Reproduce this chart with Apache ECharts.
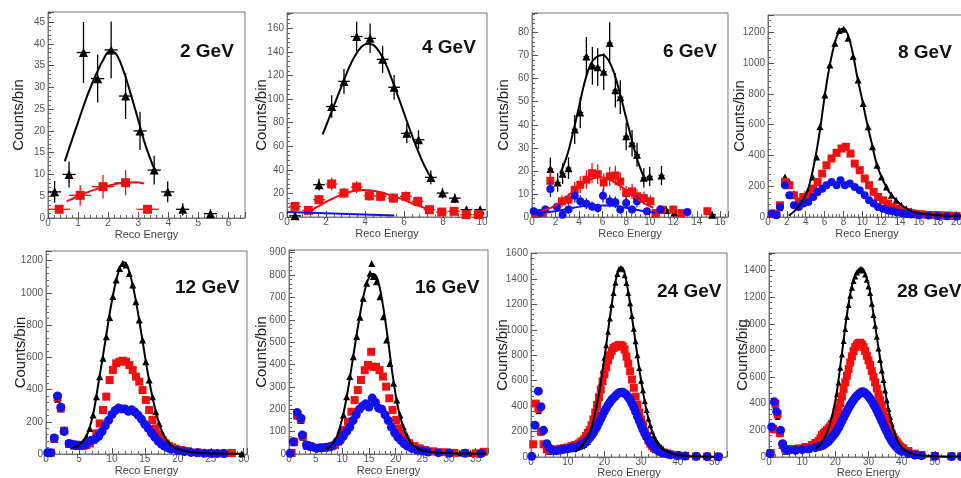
<!DOCTYPE html>
<html>
<head>
<meta charset="utf-8">
<script src="https://cdn.jsdelivr.net/npm/echarts@6.0.0/dist/echarts.min.js"></script>
<style>
  html, body { margin: 0; padding: 0; background: #fff; }
  #chart { width: 961px; height: 478px; }
</style>
</head>
<body>
<div id="chart"></div>
<script>
// ---- data: [x, y] or [x, y, xErr, yErr] ----
// 2 GeV
var p1Black = [[0.22,6,0.22,2.5],[0.7,10,0.22,3],[1.18,38,0.22,7],[1.65,32,0.22,5.5],[2.1,38.6,0.22,6.5],[2.58,28,0.22,5.3],[3.06,20,0.22,4.4],[3.53,11,0.22,3.3],[3.98,6,0.22,2.4],[4.48,2,0.22,1.4],[5.4,1,0.22,1]]
var p1Red = [[0.37,2,0.37,0.8],[1.07,5.2,0.37,2.4],[1.83,7.2,0.37,2.7],[2.58,8.1,0.37,2.9],[3.31,2,0.37,0.8]]
var p1BlackFit = [[0.56,13],[0.8,18],[1.0,22],[1.3,28],[1.6,33],[1.85,36.5],[2.05,38.3],[2.25,37.8],[2.5,34],[2.75,28.5],[3.0,22.5],[3.25,16.5],[3.55,11]]
var p1RedFit = [[0.62,3.8],[1.0,5],[1.5,6.4],[2.0,7.4],[2.5,8.1],[2.9,8.2],[3.2,7.9]]

// 4 GeV
var p2Black = [[0.41,1,0.3,1],[1.64,27.4,0.3,5],[2.29,93.7,0.3,9.5],[2.92,115,0.3,10.5],[3.57,153,0.3,12.5],[4.26,151.5,0.3,12.5],[4.9,133.7,0.3,11.5],[5.49,110,0.3,10.5],[6.14,71,0.3,8.5],[6.74,65.5,0.3,8],[7.37,33.6,0.3,5.8],[7.97,20.3,0.3,4.5],[8.6,16,0.3,4],[9.2,6.2,0.3,2.5],[9.9,6.2,0.3,2.5]]
var p2Red = [[0.41,9,0.3,3],[1.09,5.6,0.3,2.4],[1.64,14.7,0.3,3.8],[2.29,28,0.3,5.3],[2.92,20.3,0.3,4.5],[3.57,25.4,0.3,5],[4.22,18,0.3,4.2],[4.8,17.5,0.3,4.2],[5.45,16,0.3,4],[6.09,17.5,0.3,4.2],[6.7,13.3,0.3,3.6],[7.3,6.2,0.3,2.5],[7.93,4.2,0.3,2],[8.56,4.8,0.3,2.2],[9.18,2,0.3,1.4],[9.81,2,0.3,1.4]]
var p2BlackFit = [[1.83,70],[2.3,90],[2.8,111],[3.3,131],[3.8,144],[4.15,147],[4.5,145],[5.0,132],[5.5,111],[6.0,88],[6.5,65],[7.0,45],[7.42,32]]
var p2RedFit = [[1.09,4.8],[1.6,9],[2.2,14.5],[2.8,19],[3.4,22],[3.9,23],[4.5,22],[5.0,20],[5.5,17.5],[6.0,14.5],[6.5,11],[7.0,8],[7.3,6]]
var p2BlueFit = [[0,4.3],[5.5,1.2]]

// 6 GeV
var p3Black = [[1.56,20.8,0.25,5],[2.18,15,0.25,4],[2.6,18.8,0.25,4.5],[3.1,21.2,0.25,4.7],[3.63,38,0.25,6.3],[4.1,45.3,0.25,6.8],[4.62,69.6,0.25,8.5],[5.13,65.6,0.25,8.2],[5.58,65,0.25,8.2],[6.09,63,0.25,8],[6.6,75.5,0.25,9],[7.08,55,0.25,7.5],[7.5,52,0.25,7.3],[8.0,35,0.25,6],[8.5,32,0.25,5.7],[8.92,27,0.25,5.2],[9.5,17,0.25,4.2],[10.0,17.6,0.25,4.2],[11.0,18,0.25,4.2],[11.4,3,0.25,1.7],[12.1,2,0.25,1.4],[15.3,1,0.25,1]]
var p3Red = [[0.28,1.7,0.25,1.3],[0.85,1.7,0.25,1.3],[1.56,15.7,0.25,4],[2.55,6.8,0.25,2.6],[3.1,7.5,0.25,2.7],[3.63,11.8,0.25,3.4],[4.1,14,0.25,3.7],[4.62,16.2,0.25,4],[5.1,19,0.25,4.4],[5.58,18.6,0.25,4.3],[6.09,15,0.25,3.9],[6.6,17.6,0.25,4.2],[7.08,18,0.25,4.2],[7.5,15.4,0.25,3.9],[8.0,10.4,0.25,3.2],[8.5,11.1,0.25,3.3],[8.92,9,0.25,3],[9.5,8.2,0.25,2.9],[10.06,6.8,0.25,2.6],[10.5,1.7,0.25,1.3],[11.05,3.2,0.25,1.8],[12.0,3.2,0.25,1.8],[12.7,1.7,0.25,1.3],[14.9,2.5,0.25,1.6]]
var p3Blue = [[0.14,2.5,0.25,1.6],[0.7,1.7,0.25,1.3],[1.13,3.2,0.25,1.8],[1.56,12.1,0.25,3.5],[2.12,4.3,0.25,2],[2.6,1,0.25,1],[3.1,3.2,0.25,1.8],[3.63,9.2,0.25,3],[4.1,6.8,0.25,2.6],[4.62,5.8,0.25,2.4],[5.1,4.6,0.25,2.1],[5.58,3.9,0.25,2],[6.03,9.2,0.25,3],[6.6,6.8,0.25,2.6],[7.08,6.4,0.25,2.5],[7.5,3.2,0.25,1.8],[8.0,6.1,0.25,2.5],[8.5,3.2,0.25,1.8],[8.92,6.8,0.25,2.6],[9.77,2.5,0.25,1.6],[10.9,3.2,0.25,1.8],[13.2,2.2,0.25,1.5]]
var p3BlackFit = [[2.4,19],[3.0,27],[3.5,37],[4.0,48],[4.5,59],[5.0,66.5],[5.5,69.5],[6.0,70.3],[6.5,68],[7.0,62],[7.5,53],[8.0,43],[8.5,33],[9.0,24],[9.6,16]]
var p3RedFit = [[0.8,2.5],[2,5],[3,9],[4,13.5],[5,16.5],[5.8,17.2],[6.5,16.5],[7.5,13.5],[8.5,9.5],[9.5,6],[10.3,4]]
var p3BlueFit = [[0.3,1.5],[2,2.5],[3.5,4],[5,5],[6.5,5],[8,4],[9.5,2.5],[10.5,1.8]]

// 8 GeV
var p4Black = [[0.25,20],[0.75,15],[1.25,60],[1.8,260],[2.26,228],[2.75,152],[3.28,108],[3.74,119],[4.27,174],[4.73,260],[5.15,390],[5.5,586],[6.03,792],[6.56,987],[7.09,1128],[7.55,1211],[8.04,1219],[8.5,1161],[9.03,1042],[9.56,890],[10.09,738],[10.62,586],[11.08,456],[11.57,336],[12.03,260],[12.56,195],[13.09,141],[13.6,108],[14.14,76],[14.67,54],[15.2,39],[15.73,28],[16.26,22],[16.8,17],[17.3,13],[17.8,11],[18.4,9],[18.9,8],[19.4,7],[19.9,6]]
var p4Red = [[0.4,22],[0.9,22],[1.27,76],[1.8,228],[2.26,206],[2.75,141],[3.28,98],[3.74,130],[4.27,141],[4.8,184],[5.26,228],[5.75,282],[6.2,336],[6.74,380],[7.27,417],[7.8,445],[8.25,456],[8.75,412],[9.2,347],[9.73,304],[10.26,250],[10.72,206],[11.2,163],[11.67,130],[12.2,108],[12.73,87],[13.2,65],[13.7,54],[14.14,43],[14.7,33],[15.2,25],[15.7,20],[16.3,17],[17,14],[17.5,12],[18,11],[18.5,10],[19,9],[19.5,8],[20,7]]
var p4Blue = [[0.4,22],[0.9,11],[1.27,65],[1.8,206],[2.26,141],[2.75,76],[3.28,65],[3.74,87],[4.27,98],[4.8,130],[5.26,163],[5.75,184],[6.2,206],[6.74,228],[7.27,206],[7.69,239],[8.15,206],[8.68,217],[9.2,195],[9.73,174],[10.26,141],[10.72,108],[11.2,87],[11.67,65],[12.2,54],[12.73,43],[13.2,37],[13.7,30],[14.2,25],[14.7,20],[15.2,16],[16,12],[17,9],[18,7],[19,5],[20,4]]
var p4BlackFit = [[2.2,10],[3,50],[3.7,110],[4.3,190],[5,380],[5.5,560],[6,780],[6.5,970],[7,1110],[7.5,1200],[8,1225],[8.5,1180],[9,1060],[9.5,900],[10,760],[10.5,610],[11,480],[11.5,350],[12,265],[12.5,200],[13,150],[14,85],[15,45],[16,25],[18,12],[20,8],[21,7]]

// 12 GeV
var p5Black = [[0.75,10],[1.25,90],[1.75,340],[2.25,280],[2.75,150],[3.5,60],[4.15,50],[4.65,50],[5.15,56],[5.65,77],[6.15,108],[6.65,159],[7.15,242],[7.65,356],[8.15,480],[8.65,594],[9.15,728],[9.65,848],[10.15,977],[10.65,1080],[11.15,1152],[11.65,1183],[12.15,1173],[12.65,1121],[13.15,1049],[13.65,945],[14.15,832],[14.65,708],[15.15,573],[15.65,459],[16.15,356],[16.65,263],[17.15,190],[17.65,128],[18.15,91],[18.65,66],[19.15,50],[19.65,35],[20.5,25],[21.5,15],[22.5,10],[23.5,7],[24.5,5],[25.5,4],[27,3],[29.7,2]]
var p5Red = [[0.75,8],[1.25,95],[1.75,350],[2.25,285],[2.75,145],[3.5,62],[4.15,60],[4.65,55],[5.15,50],[5.65,50],[6.15,56],[6.65,66],[7.15,87],[7.65,128],[8.15,190],[8.65,273],[9.15,356],[9.65,459],[10.15,521],[10.65,563],[11.15,573],[11.65,579],[12.15,573],[12.65,552],[13.15,521],[13.65,480],[14.15,449],[14.65,397],[15.15,335],[15.65,273],[16.15,211],[16.65,159],[17.15,118],[17.65,87],[18.15,66],[18.65,50],[19.15,41],[19.65,33],[20.5,25],[21.5,18],[23,10],[25,6],[27,4],[28.2,6]]
var p5Blue = [[0.25,8],[0.75,8],[1.25,100],[1.75,360],[2.25,290],[2.75,140],[3.5,65],[4,60],[4.5,55],[5,55],[5.5,55],[6,60],[6.5,75],[7,85],[7.5,95],[8,110],[8.5,140],[9,175],[9.5,210],[10,245],[10.5,270],[11,285],[11.5,280],[12,280],[12.5,265],[13,275],[13.5,260],[14,240],[14.5,215],[15,185],[15.5,160],[16,130],[16.5,105],[17,80],[17.5,62],[18,48],[18.5,38],[19,30],[20,22],[21,15],[22,10],[23,7],[24,5],[25,4],[26,3],[27,3]]
var p5BlackFit = [[4,40],[5,55],[6,100],[7,220],[8,450],[9,700],[10,950],[11,1130],[11.8,1190],[12.5,1150],[13.5,980],[14.5,740],[15.5,490],[16.5,290],[17.5,150],[18.5,75],[19.5,40],[21,20],[23,8],[26,3],[30,1]]

// 16 GeV
var p6Black = [[0.5,5],[1.0,50],[1.5,170],[2.2,150],[2.6,75],[3.3,35],[4.2,30],[5.2,25],[6,25],[7,28],[7.6,30],[8.3,40],[8.9,63],[9.56,107],[10.2,174],[10.8,256],[11.4,346],[12.06,435],[12.7,525],[13.3,611],[13.9,696],[14.56,763],[15.2,808],[15.5,852],[15.8,793],[16.1,793],[16.4,770],[17.06,703],[17.7,614],[18.3,510],[18.9,405],[19.6,316],[20.2,241],[20.8,174],[21.4,122],[22.06,85],[22.7,55],[23.3,40],[23.9,30],[25,20],[26,14],[27,10],[28,8],[30,5],[32,4],[34,3],[36,2]]
var p6Red = [[0.5,5],[1.0,55],[1.5,175],[2.2,155],[2.6,80],[3.3,40],[4.2,32],[5,28],[6,28],[7,30],[8,35],[8.6,40],[9.2,55],[9.8,77],[10.4,107],[11.06,144],[11.7,189],[12.3,241],[12.9,286],[13.5,331],[14.2,375],[14.8,398],[15.4,457],[15.7,390],[16.3,390],[16.96,375],[17.6,346],[18.2,301],[18.8,249],[19.4,197],[20.1,152],[20.7,115],[21.3,85],[21.9,63],[22.5,48],[23.5,35],[24.5,25],[25.5,18],[27,12],[29,8],[31,5],[33,4],[35,3],[36.5,10]]
var p6Blue = [[0.2,3],[0.8,55],[1.55,185],[2.24,160],[2.5,85],[3.3,40],[4.2,33],[5.2,25],[6,28],[7,30],[8,35],[9,55],[9.6,60],[10.2,80],[10.8,100],[11.4,120],[12,150],[12.6,175],[13.2,200],[13.8,215],[14.4,225],[15,210],[15.6,250],[16.2,230],[16.8,205],[17.4,200],[18,175],[18.6,150],[19.2,120],[19.8,95],[20.4,75],[21,60],[21.6,45],[22.2,35],[23,25],[24,18],[25,13],[26,9],[28,6],[30,4],[33,3],[36,2]]
var p6BlackFit = [[7,22],[8,40],[9,80],[10,160],[11,280],[12,430],[13,580],[14,710],[15,790],[15.8,805],[16.6,780],[17.5,680],[18.5,520],[19.5,340],[20.5,200],[21.5,115],[22.5,60],[24,25],[26,10],[30,3],[37,1]]

// 24 GeV
var p7Black = [[0.6,110],[1.4,430],[2.1,360],[2.7,190],[3.4,100],[5,40],[7,45],[9,55],[11,65],[13,80],[14,85],[14.5,95],[15,108],[15.5,118],[16,150],[16.5,184],[17,235],[17.5,300],[18,390],[18.5,480],[19,580],[19.5,680],[20,780],[20.5,880],[21,985],[21.5,1090],[22,1197],[22.5,1290],[23,1370],[23.5,1440],[24,1480],[24.5,1487],[25,1478],[25.5,1430],[26,1368],[26.5,1290],[27,1210],[27.5,1110],[28,1010],[28.5,910],[29,800],[29.5,700],[30,600],[30.5,526],[31,440],[31.5,370],[32,300],[32.5,250],[33,200],[33.5,165],[34,135],[34.5,110],[35,92],[35.5,78],[36,66],[37,45],[38,30],[40,20],[42,12],[45,8],[48,5],[50.5,3]]
var p7Red = [[0.6,100],[1.3,420],[2.0,380],[2.7,200],[3.4,100],[4.3,60],[5,50],[6,55],[7,60],[8,65],[9,70],[10,75],[11,85],[12,95],[13,105],[13.5,115],[14,125],[14.5,140],[15,165],[15.5,190],[16,211],[16.5,250],[17,295],[17.5,350],[18,410],[18.5,470],[19,530],[19.5,595],[20,650],[20.5,705],[21,760],[21.5,800],[22,835],[22.5,858],[23,868],[23.5,875],[24,882],[24.5,880],[25,870],[25.5,845],[26,790],[26.5,735],[27,675],[27.5,610],[28,545],[28.5,475],[29,410],[29.5,350],[30,295],[30.5,250],[31,200],[31.5,165],[32,130],[32.5,105],[33,85],[33.5,70],[34,60],[35,45],[36,35],[37,28],[38,20],[40,13],[42,9],[45,5],[48,4],[51,3]]
var p7Blue = [[0.2,5],[1.1,250],[2,518],[2.7,395],[3.4,210],[4.3,105],[5.2,66],[6,50],[7,50],[8,55],[9,60],[10,65],[11,70],[12,75],[13,85],[13.5,92],[14,100],[14.5,110],[15,120],[15.5,135],[16,150],[16.5,170],[17,190],[17.5,215],[18,240],[18.5,270],[19,300],[19.5,330],[20,360],[20.5,385],[21,410],[21.5,430],[22,450],[22.5,465],[23,480],[23.5,495],[24,505],[24.5,510],[25,510],[25.5,500],[26,490],[26.5,470],[27,450],[27.5,420],[28,390],[28.5,355],[29,320],[29.5,285],[30,250],[30.5,215],[31,185],[31.5,160],[32,135],[32.5,115],[33,95],[33.5,80],[34,65],[34.5,55],[35,45],[35.5,38],[36,32],[37,25],[38,18],[40,12],[42,8],[45,5],[48,3],[51,2]]
var p7BlackFit = [[12,40],[14,90],[16,190],[18,420],[20,780],[22,1200],[23.5,1440],[24.7,1490],[26,1380],[28,1000],[30,600],[32,300],[34,130],[36,60],[40,15],[45,5],[50,2]]

// 28 GeV
var p8Black = [[0.5,30],[1.2,200],[1.9,380],[2.6,300],[3.3,170],[5,40],[8,45],[11,60],[14,80],[15,100],[16,130],[16.5,145],[17,160],[17.5,185],[18,205],[18.5,225],[19,260],[19.5,310],[20,380],[20.5,470],[21,560],[21.5,670],[22,770],[22.5,870],[23,960],[23.5,1050],[24,1140],[24.5,1210],[25,1270],[25.5,1320],[26,1355],[26.5,1385],[27,1400],[27.5,1410],[28,1410],[28.5,1400],[29,1370],[29.5,1330],[30,1280],[30.5,1230],[31,1150],[31.5,1066],[32,985],[32.5,903],[33,815],[33.5,728],[34,650],[34.5,577],[35,500],[35.5,426],[36,360],[36.5,301],[37,250],[37.5,200],[38,160],[38.5,125],[39,95],[39.5,75],[40,62],[41,50],[43,30],[46,15],[50,8],[55,5],[58,4]]
var p8Red = [[0.5,30],[1.2,210],[1.9,400],[2.6,320],[3.3,180],[4.1,90],[5,55],[7,60],[9,65],[11,75],[13,90],[14,105],[15,120],[15.5,140],[16,165],[16.5,178],[17,190],[17.5,202],[18,215],[18.5,230],[19,248],[19.5,268],[20,290],[20.5,318],[21,360],[21.5,405],[22,455],[22.5,510],[23,560],[23.5,610],[24,660],[24.5,710],[25,755],[25.5,795],[26,825],[26.5,843],[27,855],[27.5,858],[28,845],[28.5,825],[29,795],[29.5,760],[30,725],[30.5,690],[31,645],[31.5,602],[32,560],[32.5,514],[33,470],[33.5,426],[34,380],[34.5,339],[35,300],[35.5,263],[36,230],[36.5,200],[37,175],[37.5,150],[38,130],[38.5,113],[39,95],[39.5,80],[40,70],[40.5,63],[42,45],[44,25],[46,15],[50,8],[55,5],[58,5]]
var p8Blue = [[0.3,25],[0.8,226],[1.6,414],[2.3,339],[3.5,200],[4.1,100],[4.8,63],[6,50],[8,50],[10,55],[12,60],[14,70],[15,78],[15.5,82],[16,85],[16.5,92],[17,100],[17.5,110],[18,120],[18.5,135],[19,150],[19.5,165],[20,180],[20.5,200],[21,220],[21.5,245],[22,270],[22.5,295],[23,320],[23.5,345],[24,370],[24.5,390],[25,410],[25.5,428],[26,445],[26.5,458],[27,470],[27.5,480],[28,490],[28.5,488],[29,480],[29.5,468],[30,455],[30.5,438],[31,420],[31.5,398],[32,375],[32.5,350],[33,325],[33.5,298],[34,270],[34.5,243],[35,215],[35.5,190],[36,165],[36.5,142],[37,120],[37.5,102],[38,85],[38.5,72],[39,60],[39.5,50],[40,42],[42,25],[44,15],[46,10],[50,6],[55,4],[58,4]]
var p8BlackFit = [[14,60],[16,110],[18,220],[20,420],[22,780],[24,1150],[26,1370],[27.8,1410],[29.5,1340],[31,1150],[33,820],[35,500],[37,250],[39,110],[41,50],[45,15],[50,6],[58,3]]

// panel titles, axis names, axis ranges
var panelTitles = ['2 GeV', '4 GeV', '6 GeV', '8 GeV', '12 GeV', '16 GeV', '24 GeV', '28 GeV']
var yNames = ['Counts/bin', 'Counts/bin', 'Counts/bin', 'Counts/bin', 'Counts/bin', 'Counts/bin', 'Counts/bin', 'Counts/big']
var xName = 'Reco Energy'
var xMaxes = [6.55, 10.25, 16.65, 21, 30.5, 37.3, 53.4, 60]
var xSteps = [1, 2, 2, 2, 5, 5, 10, 10]
var yMaxes = [47.3, 173, 88.5, 1312, 1260, 912, 1605, 1531]
var ySteps = [5, 20, 10, 200, 200, 100, 200, 200]

// ---- layout (pixels) ----
var boxes = [
  { l: 48, t: 12, w: 197, h: 206, yGap: 22, xGap: 11, tx: 180, ty: 53 },
  { l: 287, t: 13, w: 200, h: 204, yGap: 18, xGap: 11, tx: 422, ty: 49 },
  { l: 532, t: 13, w: 196, h: 204, yGap: 21, xGap: 11, tx: 663, ty: 53 },
  { l: 768, t: 15, w: 198, h: 202, yGap: 21, xGap: 11, tx: 898, ty: 54 },
  { l: 46, t: 251, w: 201, h: 203, yGap: 18, xGap: 11, tx: 175, ty: 289 },
  { l: 289, t: 250, w: 199, h: 204, yGap: 20, xGap: 11, tx: 415, ty: 289 },
  { l: 531, t: 253, w: 196, h: 204, yGap: 21, xGap: 10, tx: 657, ty: 293 },
  { l: 769, t: 253, w: 199, h: 204, yGap: 19, xGap: 10, tx: 897, ty: 293 }
]

var BLACK = '#000000'
var RED = '#f01010'
var BLUE = '#1010f0'
var FONT = 'Liberation Sans, Arial, sans-serif'

function stepLabel(step) {
  return function(v) {
    var k = v / step
    return Math.abs(k - Math.round(k)) < 1e-6 ? String(v) : ''
  }
}

var grids = []
var xAxes = []
var yAxes = []
var texts = []
boxes.forEach(function(b, i) {
  grids.push({
    left: b.l, top: b.t, width: b.w, height: b.h,
    show: true, borderColor: '#777', borderWidth: 1,
    outerBoundsMode: 'none', containLabel: false
  })
  xAxes.push({
    type: 'value', gridIndex: i, min: 0, max: xMaxes[i], interval: xSteps[i],
    name: xName, nameLocation: 'middle', nameGap: b.xGap, nameMoveOverlap: false,
    nameTextStyle: { fontFamily: FONT, fontSize: 11, color: '#444' },
    axisLine: { show: true, onZero: false, lineStyle: { color: '#777', width: 1 } },
    axisTick: { show: true, inside: true, length: 6, lineStyle: { color: '#555' } },
    minorTick: { show: true, splitNumber: 5, length: 3, lineStyle: { color: '#666' } },
    splitLine: { show: false },
    axisLabel: { margin: 0, fontSize: 10, fontFamily: FONT, color: '#555', formatter: stepLabel(xSteps[i]) }
  })
  yAxes.push({
    type: 'value', gridIndex: i, min: 0, max: yMaxes[i], interval: ySteps[i],
    name: yNames[i], nameLocation: 'middle', nameGap: b.yGap, nameMoveOverlap: false,
    nameTextStyle: { fontFamily: FONT, fontSize: 15, color: '#222' },
    axisLine: { show: true, onZero: false, lineStyle: { color: '#777', width: 1 } },
    axisTick: { show: true, inside: true, length: 6, lineStyle: { color: '#555' } },
    minorTick: { show: true, splitNumber: 5, length: 3, lineStyle: { color: '#666' } },
    splitLine: { show: false },
    axisLabel: { margin: 3, fontSize: 10, fontFamily: FONT, color: '#555', formatter: stepLabel(ySteps[i]) }
  })
  texts.push({
    type: 'text', left: b.tx, top: b.ty - 11, z: 100,
    style: { text: panelTitles[i], font: 'bold 19px ' + FONT, fill: '#111' }
  })
})

// error bars drawn through the axes' own scales
function errItem(params, api) {
  var x = api.value(0), y = api.value(1), ex = api.value(2), ey = api.value(3)
  var c = api.coord([x, y])
  var l = api.coord([x - ex, y])
  var r = api.coord([x + ex, y])
  var t = api.coord([x, y + ey])
  var d = api.coord([x, Math.max(0, y - ey)])
  var st = { stroke: api.visual('color'), lineWidth: 1.3 }
  return {
    type: 'group',
    children: [
      { type: 'line', shape: { x1: l[0], y1: c[1], x2: r[0], y2: c[1] }, style: st },
      { type: 'line', shape: { x1: c[0], y1: t[1], x2: c[0], y2: d[1] }, style: st }
    ]
  }
}

var series = []
function pts(g, data, sym, color, size, z) {
  series.push({
    type: 'scatter', xAxisIndex: g, yAxisIndex: g, data: data,
    symbol: sym, symbolSize: size, itemStyle: { color: color, opacity: 1 },
    z: z, silent: true
  })
}
function bars(g, data, color, z) {
  series.push({
    type: 'custom', xAxisIndex: g, yAxisIndex: g, data: data,
    renderItem: errItem, encode: { x: 0, y: 1 }, clip: true,
    itemStyle: { color: color }, z: z, silent: true
  })
}
function curve(g, data, color, w, smooth, z) {
  series.push({
    type: 'line', xAxisIndex: g, yAxisIndex: g, data: data,
    showSymbol: false, smooth: smooth, lineStyle: { color: color, width: w },
    z: z, silent: true
  })
}

// 2 GeV
bars(0, p1Black, BLACK, 2); pts(0, p1Black, 'triangle', BLACK, 9, 3)
bars(0, p1Red, RED, 4); pts(0, p1Red, 'rect', RED, 9, 5)
curve(0, p1BlackFit, BLACK, 2, 0.4, 6); curve(0, p1RedFit, RED, 2, 0.4, 6)
// 4 GeV
bars(1, p2Black, BLACK, 2); pts(1, p2Black, 'triangle', BLACK, 9, 3)
bars(1, p2Red, RED, 4); pts(1, p2Red, 'rect', RED, 9, 5)
curve(1, p2BlackFit, BLACK, 2, 0.4, 6); curve(1, p2RedFit, RED, 2, 0.4, 6)
curve(1, p2BlueFit, BLUE, 2, false, 6)
// 6 GeV
bars(2, p3Black, BLACK, 2); pts(2, p3Black, 'triangle', BLACK, 8, 3)
bars(2, p3Red, RED, 4); pts(2, p3Red, 'rect', RED, 8, 5)
bars(2, p3Blue, BLUE, 6); pts(2, p3Blue, 'circle', BLUE, 8, 7)
curve(2, p3BlackFit, BLACK, 2, 0.4, 8); curve(2, p3RedFit, RED, 2, 0.4, 8); curve(2, p3BlueFit, BLUE, 2, 0.4, 8)
// 8 GeV
pts(3, p4Black, 'triangle', BLACK, 7, 3)
pts(3, p4Red, 'rect', RED, 8, 5)
pts(3, p4Blue, 'circle', BLUE, 8, 7)
curve(3, p4BlackFit, BLACK, 2, 0.4, 8)
// 12 GeV
pts(4, p5Black, 'triangle', BLACK, 7, 3)
pts(4, p5Red, 'rect', RED, 8, 5)
pts(4, p5Blue, 'circle', BLUE, 9, 7)
curve(4, p5BlackFit, BLACK, 2, 0.4, 8)
// 16 GeV
pts(5, p6Black, 'triangle', BLACK, 7, 3)
pts(5, p6Red, 'rect', RED, 8, 5)
pts(5, p6Blue, 'circle', BLUE, 9, 7)
curve(5, p6BlackFit, BLACK, 2, 0.4, 8)
// 24 GeV
pts(6, p7Black, 'triangle', BLACK, 6, 3)
pts(6, p7Red, 'rect', RED, 8, 5)
pts(6, p7Blue, 'circle', BLUE, 9, 7)
curve(6, p7BlackFit, BLACK, 2, 0.4, 8)
// 28 GeV
pts(7, p8Black, 'triangle', BLACK, 6, 3)
pts(7, p8Red, 'rect', RED, 8, 5)
pts(7, p8Blue, 'circle', BLUE, 9, 7)
curve(7, p8BlackFit, BLACK, 2, 0.4, 8)

var chart = echarts.init(document.getElementById('chart'), null, { renderer: 'canvas' })
chart.setOption({
  backgroundColor: '#ffffff',
  animation: false,
  grid: grids,
  xAxis: xAxes,
  yAxis: yAxes,
  series: series,
  graphic: texts
})
</script>
</body>
</html>
